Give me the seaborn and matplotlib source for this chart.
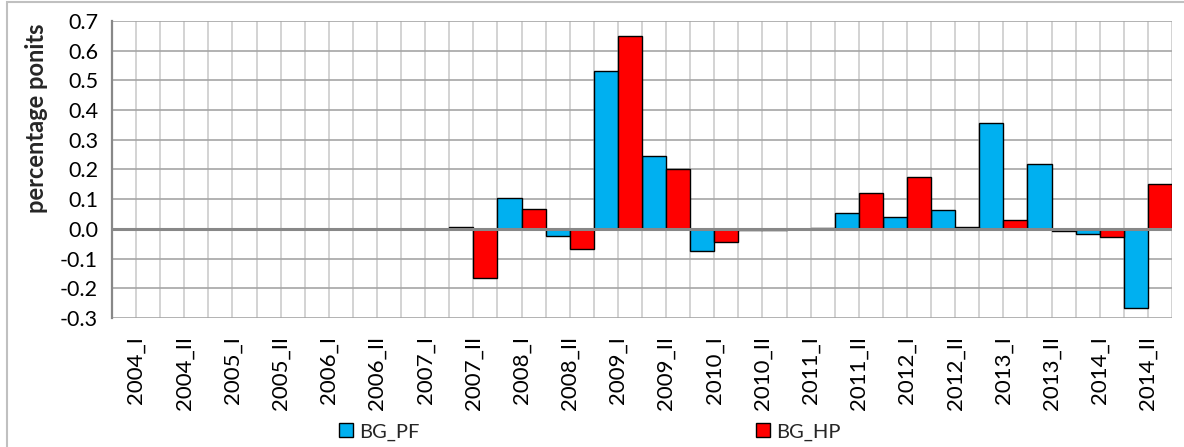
import numpy as np
import pandas as pd
import matplotlib
matplotlib.use("Agg")
import matplotlib.pyplot as plt
from matplotlib.patches import Rectangle, Patch
import seaborn as sns

periods = ["2004_I", "2004_II", "2005_I", "2005_II", "2006_I", "2006_II",
           "2007_I", "2007_II", "2008_I", "2008_II", "2009_I", "2009_II",
           "2010_I", "2010_II", "2011_I", "2011_II", "2012_I", "2012_II",
           "2013_I", "2013_II", "2014_I", "2014_II"]
bg_pf = [0.0, 0.0, 0.0, 0.0, 0.0, 0.0, 0.0, 0.008, 0.103, -0.024, 0.530, 0.247,
         -0.075, -0.003, -0.002, 0.052, 0.039, 0.064, 0.357, 0.219, -0.016, -0.265]
bg_hp = [0.0, 0.0, 0.0, 0.0, 0.0, 0.0, 0.0, -0.167, 0.068, -0.067, 0.649, 0.200,
         -0.043, -0.003, 0.004, 0.120, 0.175, 0.008, 0.031, -0.007, -0.027, 0.152]
series_names = ["BG_PF", "BG_HP"]
colors = ["#00B0F0", "#FF0000"]
y_ticks = [-0.3, -0.2, -0.1, 0.0, 0.1, 0.2, 0.3, 0.4, 0.5, 0.6, 0.7]

df = pd.DataFrame({
    "period": periods * 2,
    "value": bg_pf + bg_hp,
    "series": [series_names[0]] * len(periods) + [series_names[1]] * len(periods),
})

sns.set_style("white")
plt.rcParams["font.family"] = ["Lato", "DejaVu Sans"]

W, H = 1184, 447
fig = plt.figure(figsize=(W / 100, H / 100), dpi=100)
ax = fig.add_axes([112 / W, 1 - 318 / H, (1172 - 112) / W, (318 - 21) / H])

sns.barplot(data=df, x="period", y="value", hue="series", order=periods,
            hue_order=series_names, palette=colors, width=1.0, dodge=True,
            saturation=1, edgecolor="black", linewidth=1.0, legend=False,
            ax=ax, zorder=3)

n = len(periods)
ax.set_xlim(-0.5, n - 0.5)
ax.set_ylim(-0.3, 0.7)
ax.set_yticks(y_ticks)
ax.set_yticklabels([f"{v:.1f}" for v in y_ticks])

# grid: horizontal at every 0.1, vertical at every half category
for v in y_ticks:
    ax.axhline(v, color="#a6a6a6", lw=1.2, zorder=1)
for xv in np.arange(-0.5, n, 0.5):
    ax.axvline(xv, color="#cccccc", lw=1.2, zorder=0.9)
ax.axhline(0, color="#888888", lw=2.2, zorder=4)

for s in ["top", "right", "bottom"]:
    ax.spines[s].set_visible(False)
ax.spines["left"].set_color("#888888")
ax.spines["left"].set_linewidth(1.6)
ax.spines["left"].set_zorder(4)

ax.tick_params(axis="y", direction="out", length=7, width=1.2, color="#888888",
               labelsize=15.5, pad=3, labelcolor="black")
ax.tick_params(axis="x", length=0, pad=13, labelsize=16, labelcolor="black")
for lbl in ax.get_xticklabels():
    lbl.set_rotation(90)
    lbl.set_va("top")
    lbl.set_ha("center")

ax.set_xlabel("")
ax.set_ylabel("")
fig.text(37 / W, 1 - 118 / H, "percentage ponits", rotation=90, ha="center",
         va="center", fontsize=17, fontweight="bold")

handles = [Patch(facecolor=c, edgecolor="black", linewidth=1.0) for c in colors]
fig.legend(handles, series_names, loc="center", bbox_to_anchor=(590 / W, 1 - 432 / H),
           ncol=2, frameon=False, fontsize=14.5, handlelength=0.7,
           handleheight=0.7, handletextpad=0.3, columnspacing=16.7,
           borderpad=0)

# outer chart-area frame
fig.patches.append(Rectangle((7 / W, -0.05), 1.2, 1 - 2 / H + 0.05,
                             transform=fig.transFigure, fill=False,
                             edgecolor="#c0c0c0", lw=1.5))

fig.savefig("out.png", dpi=100)
